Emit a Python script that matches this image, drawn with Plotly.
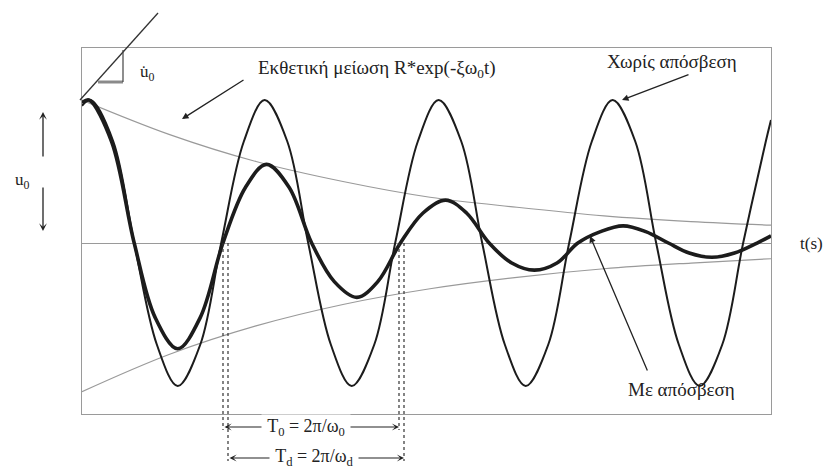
import plotly.graph_objects as go

# ---------------- data ----------------
# time in units of the undamped period T0, displacement in units of u0
t_undamped = [0.00, 0.05, 0.18, 0.30, 0.43, 0.55, 0.68, 0.80, 0.93,
              1.05, 1.18, 1.30, 1.43, 1.55, 1.68, 1.80, 1.93,
              2.05, 2.18, 2.30, 2.43, 2.55, 2.68, 2.80, 2.93,
              3.05, 3.18, 3.30, 3.43, 3.55, 3.68, 3.80, 3.93, 3.96]
u_undamped = [0.96, 1.00, 0.71, 0.00, -0.71, -1.00, -0.71, 0.00, 0.71,
              1.00, 0.71, 0.00, -0.71, -1.00, -0.71, 0.00, 0.71,
              1.00, 0.71, 0.00, -0.71, -1.00, -0.71, 0.00, 0.71,
              1.00, 0.71, 0.00, -0.71, -1.00, -0.71, 0.00, 0.71, 0.86]

t_damped = [0.00, 0.04, 0.17, 0.30, 0.42, 0.55, 0.68, 0.81, 0.94,
            1.06, 1.19, 1.32, 1.45, 1.58, 1.70, 1.83, 1.96,
            2.09, 2.21, 2.34, 2.47, 2.60, 2.73, 2.85, 2.98,
            3.11, 3.24, 3.37, 3.49, 3.62, 3.75, 3.88, 3.96]
u_damped = [0.98, 1.00, 0.71, 0.00, -0.52, -0.74, -0.52, 0.00, 0.39,
            0.55, 0.39, 0.00, -0.27, -0.38, -0.27, 0.00, 0.21,
            0.30, 0.21, 0.00, -0.14, -0.19, -0.14, 0.00, 0.08,
            0.12, 0.08, 0.00, -0.07, -0.10, -0.07, 0.00, 0.05]

t_envelope = [0.00, 0.50, 1.00, 1.50, 2.00, 2.50, 3.00, 3.50, 3.96]
u_env_upper = [1.00, 0.76, 0.57, 0.43, 0.32, 0.25, 0.19, 0.15, 0.125]
u_env_lower = [-1.04, -0.78, -0.58, -0.43, -0.32, -0.24, -0.18, -0.14, -0.11]

X_RANGE = [0.0, 3.96]
Y_RANGE = [-1.196, 1.364]

# ---------------- layout geometry ----------------
W_PX, H_PX = 827, 473
L, R, T, B = 82, 771, 48, 414   # plot frame in pixels


def px(x):
    return (x - L) / (R - L)


def py(y):
    return (B - y) / (B - T)


FONT = "Liberation Serif"
DARK = "#1c1c1c"
GRAY = "#9a9a9a"

fig = go.Figure()

fig.add_trace(go.Scatter(x=t_envelope, y=u_env_upper, mode="lines",
                         line=dict(color=GRAY, width=1.2, shape="spline"),
                         hoverinfo="skip", showlegend=False))
fig.add_trace(go.Scatter(x=t_envelope, y=u_env_lower, mode="lines",
                         line=dict(color=GRAY, width=1.2, shape="spline"),
                         hoverinfo="skip", showlegend=False))
fig.add_trace(go.Scatter(x=t_undamped, y=u_undamped, mode="lines",
                         line=dict(color=DARK, width=2.0, shape="spline", smoothing=1.0),
                         showlegend=False))
fig.add_trace(go.Scatter(x=t_damped, y=u_damped, mode="lines",
                         line=dict(color=DARK, width=3.6, shape="spline", smoothing=1.0),
                         showlegend=False))

shapes = []
# tangent line (initial velocity)
shapes.append(dict(type="line", xref="paper", yref="paper",
                   x0=px(80), y0=py(100), x1=px(158), y1=py(13),
                   line=dict(color="#333", width=1.3)))
# slope triangle
shapes.append(dict(type="line", xref="paper", yref="paper",
                   x0=px(98), y0=py(82), x1=px(123), y1=py(82),
                   line=dict(color="#8a8a8a", width=3)))
shapes.append(dict(type="line", xref="paper", yref="paper",
                   x0=px(123), y0=py(50), x1=px(123), y1=py(82),
                   line=dict(color="#444", width=1.2)))
# dotted period markers
for x0, y1 in [(223, 430), (228, 461), (399, 430), (404, 461)]:
    shapes.append(dict(type="line", xref="paper", yref="paper",
                       x0=px(x0), y0=py(243), x1=px(x0), y1=py(y1),
                       line=dict(color="#333", width=1.2, dash="dot")))

annotations = []


def text(x, y, s, size=15, bg=None):
    d = dict(x=px(x), y=py(y), xref="paper", yref="paper", text=s,
             showarrow=False, font=dict(family=FONT, size=size, color="#222"),
             xanchor="center", yanchor="middle")
    if bg:
        d["bgcolor"] = bg
    annotations.append(d)


def arrow(hx, hy, tx, ty, head=2, side="end", width=1.3, size=1.0):
    annotations.append(dict(x=px(hx), y=py(hy), xref="paper", yref="paper",
                            ax=tx - hx, ay=ty - hy, axref="pixel", ayref="pixel",
                            text="", showarrow=True, arrowhead=head, arrowsize=size,
                            arrowwidth=width, arrowcolor="#222", arrowside=side))


arrow(182, 119, 245, 79, head=2)
arrow(622, 100, 690, 74, head=2)
arrow(590, 236, 648, 372, head=2)
arrow(43, 112, 43, 158, head=3)
arrow(43, 231, 43, 186, head=3)

# period arrows
arrow(399, 427, 223, 427, head=3, side="end+start", width=1.2)
arrow(404, 458, 228, 458, head=3, side="end+start", width=1.2)

text(376, 69, "Εκθετική μείωση R*exp(-ξω<sub>0</sub>t)", 19)
text(672, 61, "Χωρίς απόσβεση", 19)
text(681, 389, "Με απόσβεση", 19)
text(811, 243, "t(s)", 17)
text(22, 181, "u<sub>0</sub>", 17)
text(147, 73, "u̇<sub>0</sub>", 17)
text(306, 427, " T<sub>0</sub> = 2π/ω<sub>0</sub> ", 18, bg="white")
text(314, 458, " T<sub>d</sub> = 2π/ω<sub>d</sub> ", 18, bg="white")

fig.update_layout(
    width=W_PX, height=H_PX,
    margin=dict(l=L, r=W_PX - R, t=T, b=H_PX - B),
    paper_bgcolor="white", plot_bgcolor="white",
    shapes=shapes, annotations=annotations,
    xaxis=dict(range=X_RANGE, showgrid=False, zeroline=False, showticklabels=False,
               ticks="", showline=True, mirror=True, linecolor=GRAY, linewidth=1.2),
    yaxis=dict(range=Y_RANGE, showgrid=False, zeroline=True, zerolinecolor=GRAY,
               zerolinewidth=1.2, showticklabels=False, ticks="",
               showline=True, mirror=True, linecolor=GRAY, linewidth=1.2),
    showlegend=False,
)

fig.write_html("out.html", config={"displayModeBar": False})
